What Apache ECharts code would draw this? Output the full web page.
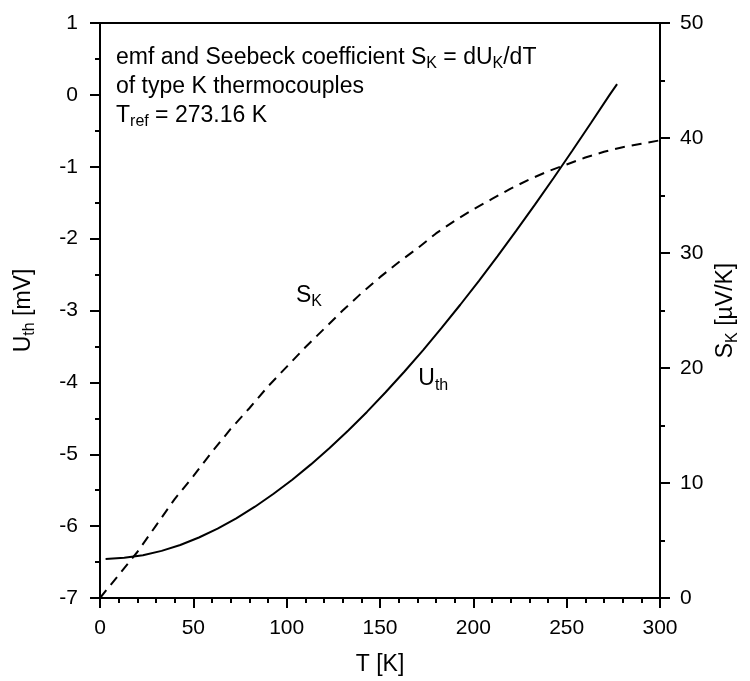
<!DOCTYPE html>
<html>
<head>
<meta charset="utf-8">
<title>Type K thermocouple emf and Seebeck coefficient</title>
<script src="https://cdn.jsdelivr.net/npm/echarts@6/dist/echarts.min.js"></script>
<style>
  html, body { margin: 0; padding: 0; background: #fff; }
  #chart { width: 750px; height: 681px; }
</style>
</head>
<body>
<div id="chart"></div>
<script>
// Temperatures (K) at which the thermoelectric voltage is tabulated
const T_EMF = [3, 13, 23, 33, 43, 53, 63, 73, 83, 93, 103, 113, 123, 133, 143,
  153, 163, 173, 183, 193, 203, 213, 223, 233, 243, 253, 263, 273, 277];
// Thermoelectric voltage U_th (mV), reference junction at 273.16 K
const U_TH = [-6.458, -6.441, -6.404, -6.344, -6.262, -6.158, -6.035, -5.891,
  -5.730, -5.550, -5.354, -5.141, -4.913, -4.669, -4.411, -4.138, -3.852,
  -3.554, -3.243, -2.920, -2.587, -2.243, -1.889, -1.527, -1.156, -0.778,
  -0.392, 0.000, 0.150];

// Temperatures (K) for the Seebeck coefficient
const T_SEEBECK = [0, 10, 20, 30, 40, 50, 60, 70, 80, 90, 100, 110, 120, 130,
  140, 150, 160, 170, 180, 190, 200, 210, 220, 230, 240, 250, 260, 270, 280,
  290, 300];
// Seebeck coefficient S_K (µV/K)
const S_K = [0.0, 2.0, 4.0, 6.3, 8.6, 10.6, 12.7, 14.7, 16.5, 18.4, 20.1, 21.8,
  23.4, 25.0, 26.5, 27.9, 29.2, 30.4, 31.7, 32.8, 33.8, 34.7, 35.6, 36.4, 37.1,
  37.7, 38.3, 38.8, 39.2, 39.5, 39.8];

// Axis ranges and tick steps
const T_AXIS = { min: 0, max: 300, step: 50 };
const U_AXIS = { min: -7, max: 1, step: 1 };
const S_AXIS = { min: 0, max: 50, step: 10 };

// Annotation texts
const TITLE_LINES = [
  '{n|emf and Seebeck coefficient S}{s|K}{n| = dU}{s|K}{n|/dT}',
  '{n|of type K thermocouples}',
  '{n|T}{s|ref}{n| = 273.16 K}'
];
const LABEL_S = { text: '{n|S}{s|K}', at: [105, 26.3] };
const LABEL_U = { text: '{n|U}{s|th}', at: [170.5, -3.95] };

const FONT = '"Liberation Sans", Arial, Helvetica, sans-serif';
const INK = '#000';
const LINE_H = 29;

const rich = {
  n: { fontFamily: FONT, fontSize: 23, color: INK, lineHeight: LINE_H, verticalAlign: 'middle' },
  s: { fontFamily: FONT, fontSize: 16, color: INK, lineHeight: 15, verticalAlign: 'bottom' }
};

const zip = (xs, ys) => xs.map((x, i) => [x, ys[i]]);

const chart = echarts.init(document.getElementById('chart'), null, { renderer: 'canvas' });

const axisCommon = {
  type: 'value',
  axisLine: { show: true, onZero: false, lineStyle: { color: INK, width: 2 } },
  axisTick: { show: true, inside: false, length: 10, lineStyle: { color: INK, width: 2 } },
  minorTick: { show: true, length: 5, lineStyle: { color: INK, width: 2 } },
  splitLine: { show: false },
  axisLabel: { color: INK, fontFamily: FONT, fontSize: 21 },
  nameLocation: 'middle',
  nameTextStyle: { rich: rich }
};

chart.setOption({
  animation: false,
  backgroundColor: '#fff',
  grid: {
    left: 100, right: 90, top: 23, bottom: 81,
    show: true, borderColor: INK, borderWidth: 2, backgroundColor: 'transparent'
  },
  xAxis: Object.assign({}, axisCommon, {
    min: T_AXIS.min, max: T_AXIS.max, interval: T_AXIS.step,
    minorTick: Object.assign({}, axisCommon.minorTick, { splitNumber: 5 }),
    axisLabel: Object.assign({}, axisCommon.axisLabel, { margin: 20 }),
    name: '{n|T [K]}', nameGap: 52
  }),
  yAxis: [
    Object.assign({}, axisCommon, {
      position: 'left',
      min: U_AXIS.min, max: U_AXIS.max, interval: U_AXIS.step,
      minorTick: Object.assign({}, axisCommon.minorTick, { splitNumber: 2 }),
      axisLabel: Object.assign({}, axisCommon.axisLabel, { margin: 22 }),
      name: '{n|U}{s|th}{n| [mV]}', nameGap: 62, nameRotate: 90
    }),
    Object.assign({}, axisCommon, {
      position: 'right',
      min: S_AXIS.min, max: S_AXIS.max, interval: S_AXIS.step,
      minorTick: Object.assign({}, axisCommon.minorTick, { splitNumber: 2 }),
      axisLabel: Object.assign({}, axisCommon.axisLabel, { margin: 20 }),
      name: '{n|S}{s|K}{n| [µV/K]}', nameGap: 46, nameRotate: 90
    })
  ],
  series: [
    {
      name: 'U_th', type: 'line', yAxisIndex: 0,
      data: zip(T_EMF, U_TH),
      showSymbol: false, smooth: false,
      lineStyle: { color: INK, width: 2 }
    },
    {
      name: 'S_K', type: 'line', yAxisIndex: 1,
      data: zip(T_SEEBECK, S_K),
      showSymbol: false, smooth: false,
      lineStyle: { color: INK, width: 2, type: [10, 7] }
    }
  ]
});

// Title block and curve labels, placed in data coordinates
const pS = chart.convertToPixel({ xAxisIndex: 0, yAxisIndex: 1 }, LABEL_S.at);
const pU = chart.convertToPixel({ xAxisIndex: 0, yAxisIndex: 0 }, LABEL_U.at);

chart.setOption({
  graphic: [
    {
      type: 'text', left: 116, top: 46, silent: true,
      style: { text: TITLE_LINES.join('\n'), rich: rich, fill: INK }
    },
    {
      type: 'text', x: pS[0], y: pS[1] - LINE_H / 2, silent: true,
      style: { text: LABEL_S.text, rich: rich, fill: INK }
    },
    {
      type: 'text', x: pU[0], y: pU[1] - LINE_H / 2, silent: true,
      style: { text: LABEL_U.text, rich: rich, fill: INK }
    }
  ]
});
</script>
</body>
</html>
